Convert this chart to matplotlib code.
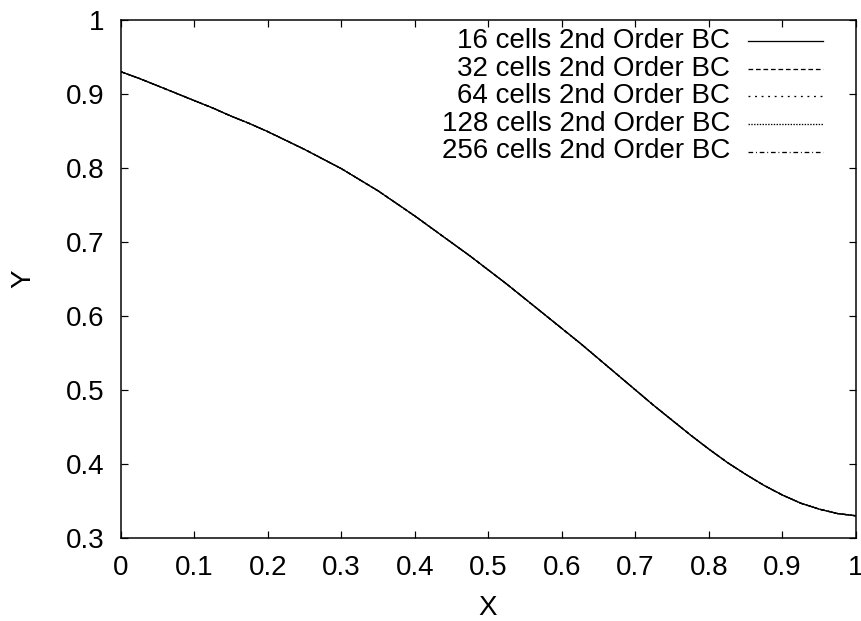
import matplotlib
matplotlib.use("Agg")
import matplotlib.pyplot as plt

# ---- data ----
x_vals = [0.000, 0.025, 0.050, 0.075, 0.100, 0.125, 0.150, 0.175, 0.200, 0.225,
          0.250, 0.275, 0.300, 0.325, 0.350, 0.375, 0.400, 0.425, 0.450, 0.475,
          0.500, 0.525, 0.550, 0.575, 0.600, 0.625, 0.650, 0.675, 0.700, 0.725,
          0.750, 0.775, 0.800, 0.825, 0.850, 0.875, 0.900, 0.925, 0.950, 0.975, 1.000]
y_vals = [0.930, 0.921, 0.911, 0.901, 0.891, 0.881, 0.870, 0.860, 0.849, 0.837,
          0.825, 0.812, 0.799, 0.784, 0.769, 0.752, 0.735, 0.717, 0.699, 0.681,
          0.662, 0.643, 0.623, 0.603, 0.583, 0.563, 0.542, 0.521, 0.500, 0.479,
          0.459, 0.439, 0.420, 0.402, 0.386, 0.371, 0.358, 0.347, 0.339, 0.333, 0.330]

series_labels = ["16 cells 2nd Order BC", "32 cells 2nd Order BC", "64 cells 2nd Order BC",
                 "128 cells 2nd Order BC", "256 cells 2nd Order BC"]
series_dashes = [None, (5, 3), (2, 5), (1.5, 1.5), (5, 3, 1, 3)]

x_ticks = [0, 0.1, 0.2, 0.3, 0.4, 0.5, 0.6, 0.7, 0.8, 0.9, 1]
x_tick_labels = ["0", "0.1", "0.2", "0.3", "0.4", "0.5", "0.6", "0.7", "0.8", "0.9", "1"]
y_ticks = [0.3, 0.4, 0.5, 0.6, 0.7, 0.8, 0.9, 1]
y_tick_labels = ["0.3", "0.4", "0.5", "0.6", "0.7", "0.8", "0.9", "1"]

plt.rcParams['font.family'] = ['Liberation Sans', 'DejaVu Sans']
FS = 20
W, H = 862, 621
fig = plt.figure(figsize=(W / 100, H / 100), dpi=100)
L, R, T, B = 121, 856, 20, 538
ax = fig.add_axes([L / W, 1 - B / H, (R - L) / W, (B - T) / H])

px = 72 / 100  # points per pixel
LW = 1.3 * px

# curves: higher resolutions first, 16 cells (solid) on top
for i in reversed(range(len(series_labels))):
    ln, = ax.plot(x_vals, y_vals, color='black', lw=LW, solid_capstyle='round')
    if series_dashes[i] is not None:
        ln.set_dashes([d * px for d in series_dashes[i]])

ax.set_xlim(0, 1)
ax.set_ylim(0.3, 1)
ax.set_xticks(x_ticks)
ax.set_xticklabels(x_tick_labels)
ax.set_yticks(y_ticks)
ax.set_yticklabels(y_tick_labels)
ax.tick_params(direction='in', length=7 * px, width=1.2 * px, top=True, right=True,
               labelsize=FS, colors='black')
ax.tick_params(axis='x', pad=12)
ax.tick_params(axis='y', pad=12)
for s in ax.spines.values():
    s.set_linewidth(1.5 * px)

# legend drawn manually (right-aligned text, sample line at right)
rows_px = [41, 68.7, 96, 124, 151.5]
text_right = (730 - L) / (R - L)
line_x0 = (748 - L) / (R - L)
line_x1 = (823 - L) / (R - L)
for i, lab in enumerate(series_labels):
    yf = (B - rows_px[i]) / (B - T)
    ax.text(text_right, yf, lab, transform=ax.transAxes, ha='right', va='center', fontsize=FS)
    hl, = ax.plot([line_x0, line_x1], [yf, yf], transform=ax.transAxes, color='black', lw=LW)
    if series_dashes[i] is not None:
        hl.set_dashes([d * px for d in series_dashes[i]])

fig.text(488 / W, 1 - 608 / H, "X", ha='center', va='center', fontsize=FS)
fig.text(23 / W, 1 - 279 / H, "Y", ha='center', va='center', rotation=90, fontsize=FS)

fig.savefig("out.png", dpi=100)
